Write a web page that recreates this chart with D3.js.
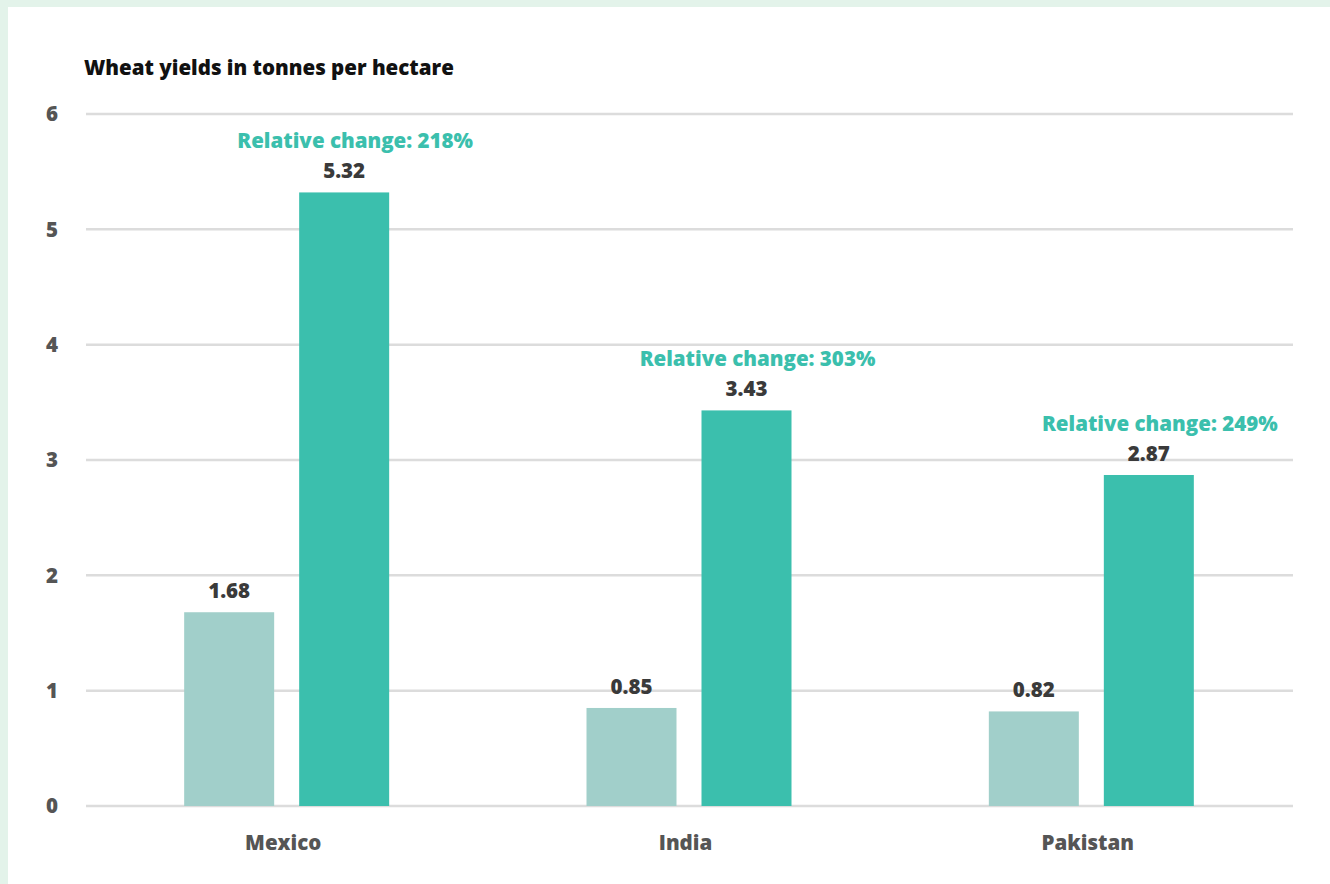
<!DOCTYPE html>
<html>
<head>
<meta charset="utf-8">
<script src="https://cdn.jsdelivr.net/npm/d3@7"></script>
<style>
  html, body { margin: 0; padding: 0; background: #e3f3ea; }
  svg { display: block; }
  text { font-family: "Open Sans", sans-serif; font-weight: 800; }
</style>
</head>
<body>
<svg width="1330" height="884"></svg>
<script>
const countries = ['Mexico', 'India', 'Pakistan'];
const before = [1.68, 0.85, 0.82];
const after = [5.32, 3.43, 2.87];
const relChange = [218, 303, 249];
const yTicks = [0, 1, 2, 3, 4, 5, 6];

const fontSize = 20.5;

const svg = d3.select('svg');
svg.append('rect')
    .attr('x', 8).attr('y', 7)
    .attr('width', 1322).attr('height', 877)
    .attr('fill', '#fff');

const x = d3.scaleBand()
    .domain(countries)
    .range([86, 1293]);
const inner = d3.scaleBand()
    .domain(['before', 'after'])
    .range([x.bandwidth() / 2 - 103, x.bandwidth() / 2 + 102])
    .paddingInner(25 / 115);
const y = d3.scaleLinear()
    .domain([0, 6])
    .range([806, 114]);

svg.append('text')
    .attr('x', 84).attr('y', 75)
    .attr('font-size', fontSize)
    .attr('fill', '#111')
    .text('Wheat yields in tonnes per hectare');

// gridlines
svg.append('g')
    .selectAll('line')
    .data(yTicks)
    .join('line')
    .attr('x1', 86).attr('x2', 1293)
    .attr('y1', d => y(d)).attr('y2', d => y(d))
    .attr('stroke', '#dcdcdc')
    .attr('stroke-width', 2.5);

svg.append('g')
    .selectAll('text')
    .data(yTicks)
    .join('text')
    .attr('x', 58).attr('y', d => y(d))
    .attr('dy', '0.35em')
    .attr('text-anchor', 'end')
    .attr('font-size', fontSize)
    .attr('fill', '#555')
    .text(d => d);

const groups = svg.append('g')
    .selectAll('g')
    .data(countries)
    .join('g')
    .attr('transform', d => `translate(${x(d)},0)`);

groups.append('rect')
    .attr('x', inner('before'))
    .attr('width', inner.bandwidth())
    .attr('y', (d, i) => y(before[i]))
    .attr('height', (d, i) => y(0) - y(before[i]))
    .attr('fill', '#a1cfca');

groups.append('rect')
    .attr('x', inner('after'))
    .attr('width', inner.bandwidth())
    .attr('y', (d, i) => y(after[i]))
    .attr('height', (d, i) => y(0) - y(after[i]))
    .attr('fill', '#3bbfad');

groups.append('text')
    .attr('x', inner('before') + inner.bandwidth() / 2)
    .attr('y', (d, i) => y(before[i]) - 14)
    .attr('text-anchor', 'middle')
    .attr('font-size', fontSize)
    .attr('fill', '#3a3a3a')
    .text((d, i) => before[i].toFixed(2));

groups.append('text')
    .attr('x', inner('after') + inner.bandwidth() / 2)
    .attr('y', (d, i) => y(after[i]) - 14)
    .attr('text-anchor', 'middle')
    .attr('font-size', fontSize)
    .attr('fill', '#3a3a3a')
    .text((d, i) => after[i].toFixed(2));

groups.append('text')
    .attr('x', inner('after') + inner.bandwidth() / 2 + 11)
    .attr('y', (d, i) => y(after[i]) - 44)
    .attr('text-anchor', 'middle')
    .attr('font-size', fontSize)
    .attr('fill', '#3bbfad')
    .text((d, i) => `Relative change: ${relChange[i]}%`);

groups.append('text')
    .attr('x', x.bandwidth() / 2 - 4)
    .attr('y', 850)
    .attr('text-anchor', 'middle')
    .attr('font-size', fontSize)
    .attr('fill', '#555')
    .text(d => d);
</script>
</body>
</html>
